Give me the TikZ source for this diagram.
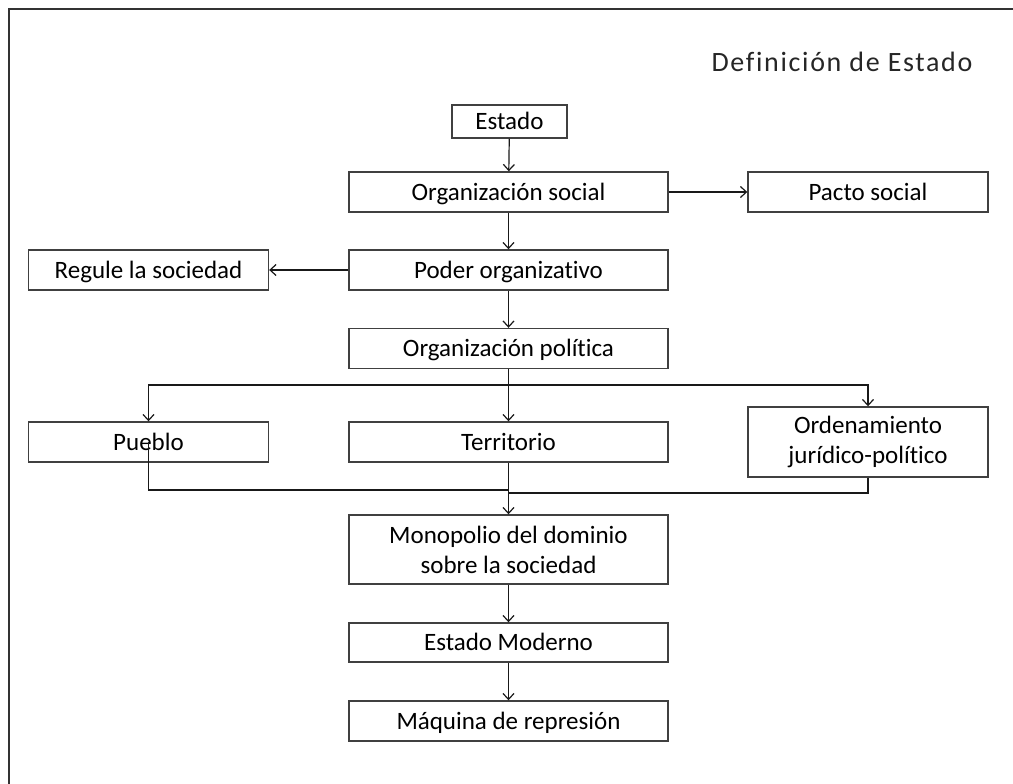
\documentclass[tikz,border=0pt]{standalone}
\usepackage{fontspec}
\setmainfont{Carlito}[Ligatures=NoCommon]
\newfontfamily\titlefont[LetterSpace=6,Ligatures=NoCommon]{Carlito}
\usetikzlibrary{arrows.meta}
\begin{document}
\begin{tikzpicture}[x=1pt,y=-1pt,
  box/.style={draw=black!75, line width=1.4pt, fill=white, inner sep=0pt, align=center,
    font=\fontsize{25}{30}\selectfont},
  oneline/.style={text height=20pt, text depth=4pt},
  cbox/.style={box, minimum width=319pt, minimum height=40pt},
  sbox/.style={box, minimum width=240pt, minimum height=40pt},
  conn/.style={line width=1.2pt, black!90},
  arr/.style={conn, -{Straight Barb[length=6pt,width=11pt]}}]
\useasboundingbox (0,0) rectangle (1013,784);
\draw[line width=2.2pt, black!80] (9,784) -- (9,9) -- (1013,9);
\node[anchor=base east, font=\titlefont\fontsize{28}{33}\selectfont, text=black!85] (title) at (976,72) {Definición de Estado};
\node[box, oneline, minimum width=115pt, minimum height=33pt] (est) at (509.5,121.5) {Estado};
\node[cbox, oneline] (os) at (508.5,192) {Organización social};
\node[sbox, oneline] (ps) at (868,192) {Pacto social};
\node[cbox, oneline] (po) at (508.5,270) {Poder organizativo};
\node[sbox, oneline] (rs) at (148.5,270) {Regule la sociedad};
\node[cbox, oneline] (opol) at (508.5,348.5) {Organización política};
\node[sbox, oneline] (pue) at (148.5,442) {Pueblo};
\node[cbox, oneline] (ter) at (508.5,442) {Territorio};
\node[sbox, minimum height=70pt] (ord) at (868,442) {Ordenamiento\\jurídico-político};
\node[cbox, minimum height=69pt] (mon) at (508.5,549.5) {Monopolio del dominio\\sobre la sociedad};
\node[cbox, oneline, minimum height=39pt] (em) at (508.5,642.5) {Estado Moderno};
\node[cbox, oneline] (mq) at (508.5,721) {Máquina de represión};
\coordinate (split) at (508.5,385);
\coordinate (jl) at (508.5,490);
\coordinate (jr) at (508.5,493);
\draw[arr] (est) -- (os);
\draw[arr] (os) -- (ps);
\draw[arr] (os) -- (po);
\draw[arr] (po) -- (rs);
\draw[arr] (po) -- (opol);
\draw[conn] (opol.south) -- (split);
\draw[arr] (split) -| (pue.north);
\draw[arr] (split) -| (ord.north);
\draw[arr] (split) -- (ter.north);
\draw[conn] (pue.center) |- (jl);
\draw[conn] (ord.south) |- (jr);
\draw[arr] (ter.south) -- (mon.north);
\draw[arr] (mon) -- (em);
\draw[arr] (em) -- (mq);
\end{tikzpicture}
\end{document}
